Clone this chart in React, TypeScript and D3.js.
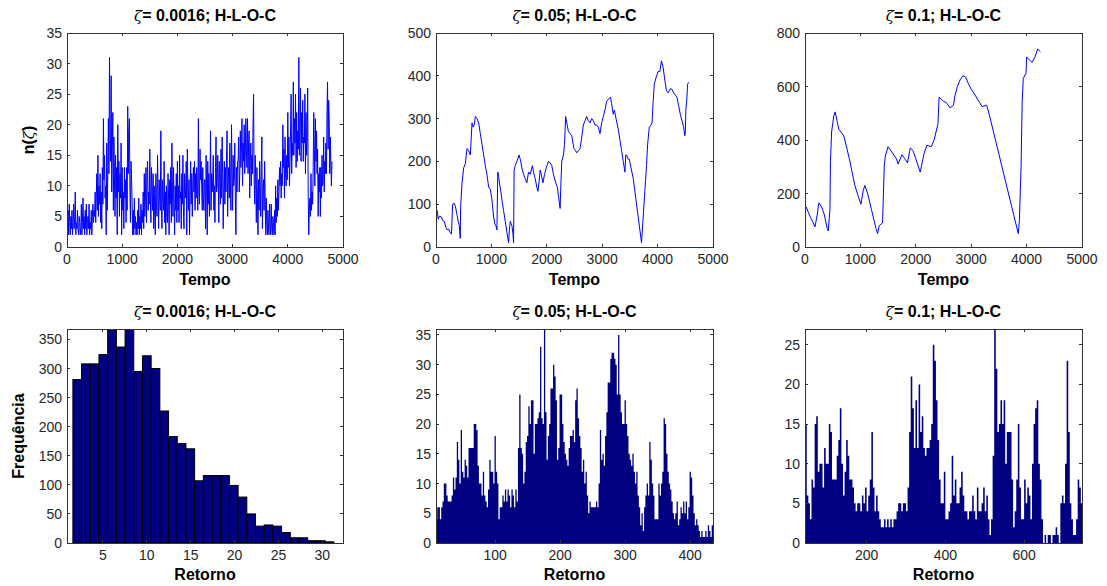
import React from "react";
import * as d3 from "d3";

// ---------- DATA ----------
const tempoTicks = [0, 1000, 2000, 3000, 4000, 5000];

// Panel 1: zeta = 0.0016, n(zeta) vs Tempo, sampled every 10 time units
const p1Step = 10;
const p1Values = [
  8, 3, 6, 2, 7, 4, 2, 5, 3, 6,
  2, 4, 7, 3, 5, 9, 2, 4, 3, 6,
  3, 2, 5, 4, 2, 3, 7, 2, 4, 8,
  3, 5, 2, 6, 3, 7, 2, 4, 5, 3,
  7, 2, 4, 3, 6, 2, 5, 7, 4, 6,
  5, 9, 4, 8, 12, 6, 15, 5, 10, 7,
  12, 4, 9, 3, 13, 7, 21, 11, 15, 8,
  10, 2, 17, 6, 13, 21, 12, 31, 18, 14,
  28, 9, 16, 22, 6, 18, 11, 5, 15, 8,
  13, 2, 20, 9, 14, 5, 12, 8, 17, 2,
  13, 6, 9, 3, 13, 8, 11, 4, 13, 6,
  23, 12, 19, 21, 9, 4, 14, 11, 7, 2,
  6, 2, 8, 3, 5, 2, 4, 2, 6, 3,
  8, 2, 5, 3, 7, 2, 6, 4, 9, 3,
  12, 5, 8, 13, 4, 11, 14, 6, 9, 7,
  16, 8, 4, 13, 10, 6, 12, 3, 10, 5,
  2, 12, 7, 5, 15, 9, 3, 11, 8, 6,
  19, 7, 3, 11, 8, 6, 14, 4, 9, 2,
  10, 5, 4, 12, 8, 2, 11, 7, 13, 4,
  17, 9, 5, 13, 7, 2, 10, 6, 12, 4,
  14, 6, 10, 4, 15, 8, 9, 3, 12, 7,
  15, 5, 3, 12, 9, 8, 14, 2, 16, 10,
  6, 11, 2, 9, 14, 7, 12, 5, 10, 13,
  9, 14, 6, 12, 8, 13, 10, 6, 21, 9,
  7, 16, 11, 14, 10, 6, 13, 8, 6, 11,
  11, 3, 15, 9, 2, 14, 7, 12, 5, 10,
  19, 6, 12, 9, 11, 15, 6, 10, 4, 13,
  18, 9, 10, 15, 12, 4, 14, 11, 7, 16,
  8, 18, 12, 3, 10, 14, 7, 13, 9, 15,
  19, 5, 11, 13, 8, 17, 10, 6, 20, 12,
  6, 15, 10, 11, 17, 8, 2, 13, 9, 14,
  14, 18, 9, 12, 19, 13, 16, 21, 10, 17,
  14, 20, 12, 15, 21, 16, 13, 21, 12, 17,
  19, 8, 14, 17, 10, 15, 12, 20, 25, 11,
  7, 15, 10, 4, 13, 8, 2, 11, 6, 14,
  10, 5, 13, 18, 3, 9, 11, 6, 14, 8,
  2, 8, 4, 2, 6, 3, 2, 7, 4, 2,
  7, 3, 2, 5, 4, 2, 6, 2, 10, 4,
  8, 5, 11, 6, 9, 13, 10, 14, 8, 12,
  10, 20, 13, 16, 8, 18, 12, 10, 15, 11,
  22, 13, 18, 10, 14, 19, 25, 12, 17, 15,
  27, 15, 21, 17, 25, 13, 22, 14, 19, 16,
  31, 15, 20, 26, 14, 22, 17, 24, 14, 18,
  17, 25, 12, 22, 15, 18, 26, 8, 2, 6,
  8, 5, 12, 6, 9, 7, 13, 22, 16, 10,
  21, 14, 19, 12, 16, 5, 12, 9, 13, 5,
  13, 8, 15, 10, 11, 18, 9, 14, 12, 17,
  12, 22, 27, 16, 24, 21, 12, 18, 14, 10,
  14,
];

// Panel 2: zeta = 0.05
const p2Times = [
  0, 20, 40, 60, 100, 120, 150, 180, 200, 230, 250, 280, 300, 330, 350, 380, 400, 420, 438, 445,
  470, 500, 530, 560, 590, 620, 650, 670, 690, 710, 740, 770, 800, 830, 860, 890, 920, 950, 980, 1010,
  1040, 1060, 1080, 1100, 1115, 1130, 1145, 1170, 1190, 1220, 1250, 1280, 1310, 1325, 1340, 1355, 1370, 1390, 1400, 1410,
  1430, 1460, 1500, 1530, 1550, 1580, 1610, 1640, 1670, 1700, 1740, 1760, 1790, 1820, 1840, 1860, 1880, 1900, 1930, 1960,
  1990, 2030, 2060, 2090, 2120, 2150, 2190, 2210, 2240, 2255, 2270, 2300, 2320, 2340, 2360, 2390, 2420, 2450, 2490, 2520,
  2540, 2570, 2600, 2630, 2660, 2690, 2720, 2750, 2780, 2810, 2840, 2870, 2900, 2930, 2960, 2990, 3020, 3050, 3080, 3110,
  3150, 3170, 3200, 3220, 3250, 3290, 3320, 3350, 3380, 3410, 3425, 3440, 3470, 3490, 3520, 3560, 3590, 3620, 3650, 3680,
  3710, 3725, 3740, 3770, 3800, 3820, 3850, 3880, 3900, 3920, 3940, 3970, 4010, 4040, 4070, 4090, 4100, 4130, 4160, 4190,
  4230, 4260, 4290, 4320, 4350, 4380, 4410, 4440, 4470, 4490, 4500, 4510, 4530, 4540, 4560,
];
const p2Values = [
  70, 85, 65, 72, 70, 62, 60, 45, 40, 42, 35, 30, 100, 102, 95, 75, 60, 50, 20, 95,
  150, 185, 195, 230, 225, 215, 290, 280, 285, 305, 300, 290, 265, 240, 215, 190, 170, 140, 135, 110,
  70, 55, 50, 40, 175, 165, 150, 130, 110, 85, 60, 35, 10, 40, 60, 55, 50, 30, 10, 180,
  190, 200, 215, 200, 185, 170, 160, 150, 175, 170, 190, 175, 160, 140, 130, 150, 180, 170, 150, 170,
  185, 200, 197, 190, 170, 155, 140, 120, 90, 150, 200, 215, 240, 305, 290, 270, 265, 260, 230, 225,
  220, 225, 230, 255, 285, 295, 305, 295, 290, 300, 295, 285, 285, 280, 265, 290, 305, 320, 340, 345,
  350, 335, 310, 320, 300, 275, 250, 225, 200, 175, 215, 215, 205, 205, 185, 160, 130, 100, 70, 40,
  10, 40, 70, 130, 190, 240, 280, 285, 290, 340, 380, 395, 410, 410, 435, 425, 420, 390, 365, 360,
  370, 368, 360, 355, 350, 330, 310, 295, 280, 260, 265, 320, 350, 380, 385,
];

// Panel 3: zeta = 0.1
const p3Times = [
  0, 20, 60, 100, 150, 180, 220, 250, 300, 350, 400, 420, 450, 460, 480, 520, 545, 580, 610, 650,
  700, 720, 800, 900, 960, 1010, 1050, 1080, 1130, 1200, 1280, 1310, 1340, 1400, 1430, 1450, 1500, 1550, 1650, 1680,
  1750, 1800, 1850, 1900, 1950, 2000, 2080, 2150, 2200, 2280, 2330, 2400, 2420, 2500, 2550, 2620, 2680, 2700, 2750, 2800,
  2850, 2900, 2950, 3000, 3050, 3150, 3200, 3280, 3320, 3850, 3870, 3900, 3920, 3940, 3990, 4000, 4100, 4150, 4200, 4250,
];
const p3Values = [
  130, 150, 130, 110, 90, 75, 120, 165, 150, 120, 70, 60, 140, 320, 430, 490, 505, 470, 440, 430,
  415, 400, 330, 230, 190, 160, 210, 230, 200, 140, 70, 50, 80, 90, 300, 340, 375, 360, 330, 310,
  345, 330, 315, 370, 360, 330, 280, 350, 380, 375, 400, 460, 560, 545, 540, 520, 530, 560, 600, 625,
  640, 635, 610, 590, 575, 540, 525, 530, 500, 50, 100, 300, 540, 630, 650, 710, 690, 710, 740, 730,
];

// Histogram 1: 30 bins over [1.57, 31.3]
const hist1Range = [1.57, 31.3];
const hist1Counts = [
  281, 308, 308, 324, 368, 337, 368, 295, 322, 300,
  227, 183, 171, 162, 107, 116, 116, 116, 99, 79,
  50, 29, 31, 29, 18, 9, 9, 4, 4, 2,
];

// Histogram 2: bins of width 2 starting at 9
const hist2Start = 9;
const hist2Width = 2;
const hist2Counts = [
  4, 6, 6, 4, 6, 7, 10, 10, 8, 7,
  7, 7, 8, 11, 9, 11, 17, 14, 10, 19,
  12, 11, 14, 13, 11, 16, 16, 16, 16, 20,
  20, 19, 13, 10, 10, 8, 12, 8, 7, 6,
  9, 14, 12, 12, 10, 18, 12, 10, 4, 6,
  6, 8, 7, 9, 7, 9, 8, 6, 9, 8,
  6, 9, 7, 16, 25, 16, 15, 10, 12, 17,
  18, 23, 20, 24, 24, 15, 20, 20, 21, 22,
  33, 21, 20, 36, 22, 14, 18, 20, 26, 26,
  30, 28, 24, 14, 16, 25, 25, 20, 17, 15,
  14, 13, 16, 18, 18, 19, 17, 24, 26, 21,
  18, 16, 12, 14, 10, 12, 8, 5, 7, 6,
  6, 6, 6, 7, 6, 10, 19, 14, 15, 13,
  18, 22, 27, 27, 31, 32, 32, 31, 30, 25,
  35, 25, 22, 20, 20, 24, 20, 18, 15, 14,
  13, 15, 12, 10, 12, 8, 6, 3, 5, 2,
  6, 8, 10, 8, 17, 14, 10, 8, 4, 4,
  4, 10, 8, 10, 12, 21, 20, 15, 12, 10,
  9, 7, 5, 4, 5, 7, 3, 4, 6, 5,
  7, 5, 7, 4, 6, 12, 11, 8, 5, 3,
  4, 3, 2, 1, 2, 1, 1, 2, 1, 3,
  2, 1, 3,
];

// Histogram 3: bins of width 4 starting at 44
const hist3Start = 44;
const hist3Width = 4;
const hist3Counts = [
  15, 6, 5, 3, 8, 7, 15, 16, 9, 10,
  10, 7, 12, 10, 10, 15, 14, 8, 8, 8,
  11, 13, 17, 10, 6, 9, 13, 11, 8, 8,
  7, 5, 4, 5, 5, 4, 6, 5, 7, 4,
  6, 8, 14, 7, 4, 6, 4, 3, 2, 2,
  3, 2, 3, 2, 3, 2, 3, 3, 4, 5,
  5, 4, 5, 5, 4, 7, 14, 21, 17, 12,
  18, 12, 20, 14, 16, 12, 11, 12, 12, 13,
  15, 25, 23, 18, 13, 8, 5, 5, 9, 3,
  3, 4, 5, 11, 6, 8, 5, 5, 7, 9,
  6, 4, 4, 3, 4, 4, 6, 4, 3, 7,
  4, 4, 5, 7, 4, 6, 3, 1, 3, 11,
  27, 22, 14, 15, 18, 15, 18, 10, 14, 14,
  14, 8, 2, 4, 8, 15, 7, 3, 3, 8,
  5, 7, 6, 3, 10, 15, 17, 18, 10, 8,
  3, 0, 1, 0, 1, 1, 0, 1, 1, 2,
  1, 0, 5, 6, 5, 10, 23, 14, 5, 3,
  1, 1, 3, 8, 7, 5,
];

// ---------- LAYOUT ----------
const W = 1107;
const H = 586;
const cols = [
  { x0: 67, x1: 343 },
  { x0: 436, x1: 713 },
  { x0: 805, x1: 1082 },
];
const rows = [
  { y0: 33, y1: 247 },
  { y0: 329, y1: 543 },
];
const FONT = "Arial, 'Liberation Sans', Helvetica, sans-serif";
const TXT = "#262626";
const NAVY = "#000080";
const BLUE = "#0000ff";

type Box = { x0: number; x1: number; y0: number; y1: number };

function Axes({
  box,
  x,
  y,
  xTicks,
  yTicks,
}: {
  box: Box;
  x: d3.ScaleLinear<number, number>;
  y: d3.ScaleLinear<number, number>;
  xTicks: number[];
  yTicks: number[];
}) {
  const tl = 3;
  return (
    <g>
      <rect
        x={box.x0}
        y={box.y0}
        width={box.x1 - box.x0}
        height={box.y1 - box.y0}
        fill="none"
        stroke="#333"
        strokeWidth={1}
        shapeRendering="crispEdges"
      />
      {xTicks.map((t) => (
        <g key={"x" + t}>
          <line x1={x(t)} x2={x(t)} y1={box.y1} y2={box.y1 - tl} stroke="#333" shapeRendering="crispEdges" />
          <line x1={x(t)} x2={x(t)} y1={box.y0} y2={box.y0 + tl} stroke="#333" shapeRendering="crispEdges" />
          <text
            x={x(t)}
            y={box.y1 + 17}
            textAnchor="middle"
            fontFamily={FONT}
            fontSize={14}
            fill={TXT}
          >
            {t}
          </text>
        </g>
      ))}
      {yTicks.map((t) => (
        <g key={"y" + t}>
          <line x1={box.x0} x2={box.x0 + tl} y1={y(t)} y2={y(t)} stroke="#333" shapeRendering="crispEdges" />
          <line x1={box.x1} x2={box.x1 - tl} y1={y(t)} y2={y(t)} stroke="#333" shapeRendering="crispEdges" />
          <text
            x={box.x0 - 5}
            y={y(t)}
            textAnchor="end"
            dominantBaseline="central"
            fontFamily={FONT}
            fontSize={14}
            fill={TXT}
          >
            {t}
          </text>
        </g>
      ))}
    </g>
  );
}

function Title({ box, label }: { box: Box; label: string }) {
  return (
    <text
      x={(box.x0 + box.x1) / 2}
      y={box.y0 - 12}
      textAnchor="middle"
      fontFamily={FONT}
      fontSize={16}
      fontWeight="bold"
      fill="#000"
    >
      <tspan fontWeight="normal" fontFamily="'DejaVu Serif', serif" fontStyle="italic" fontSize={15}>
        ζ
      </tspan>
      {"= " + label + "; H-L-O-C"}
    </text>
  );
}

function LinePanel({
  box,
  times,
  values,
  yMax,
  yTicks,
  label,
  id,
}: {
  box: Box;
  times: number[];
  values: number[];
  yMax: number;
  yTicks: number[];
  label: string;
  id: string;
}) {
  const x = d3.scaleLinear().domain([0, 5000]).range([box.x0, box.x1]);
  const y = d3.scaleLinear().domain([0, yMax]).range([box.y1, box.y0]);
  const pts = times.map((t, i) => [t, values[i]] as [number, number]);
  const line = d3
    .line<[number, number]>()
    .x((d) => x(d[0]))
    .y((d) => y(d[1]));
  return (
    <g>
      <defs>
        <clipPath id={id}>
          <rect x={box.x0} y={box.y0} width={box.x1 - box.x0} height={box.y1 - box.y0} />
        </clipPath>
      </defs>
      <path d={line(pts) || ""} fill="none" stroke={BLUE} strokeWidth={1} clipPath={`url(#${id})`} />
      <Axes box={box} x={x} y={y} xTicks={tempoTicks} yTicks={yTicks} />
      <Title box={box} label={label} />
      <text
        x={(box.x0 + box.x1) / 2}
        y={box.y1 + 38}
        textAnchor="middle"
        fontFamily={FONT}
        fontSize={16}
        fontWeight="bold"
        fill="#000"
      >
        Tempo
      </text>
    </g>
  );
}

function HistPanel({
  box,
  edges,
  counts,
  xDomain,
  yMax,
  xTicks,
  yTicks,
  label,
  stroke,
  id,
}: {
  box: Box;
  edges: number[];
  counts: number[];
  xDomain: [number, number];
  yMax: number;
  xTicks: number[];
  yTicks: number[];
  label: string;
  stroke: boolean;
  id: string;
}) {
  const x = d3.scaleLinear().domain(xDomain).range([box.x0, box.x1]);
  const y = d3.scaleLinear().domain([0, yMax]).range([box.y1, box.y0]);
  const stepPts = counts.map((c, i) => [edges[i], c] as [number, number]);
  stepPts.push([edges[counts.length], counts[counts.length - 1]]);
  const area = d3
    .area<[number, number]>()
    .x((d) => x(d[0]))
    .y0(y(0))
    .y1((d) => y(d[1]))
    .curve(d3.curveStepAfter);
  return (
    <g>
      <defs>
        <clipPath id={id}>
          <rect x={box.x0} y={box.y0} width={box.x1 - box.x0} height={box.y1 - box.y0} />
        </clipPath>
      </defs>
      <g clipPath={`url(#${id})`}>
        {stroke ? (
          counts.map((c, i) => (
            <rect
              key={i}
              x={x(edges[i])}
              y={y(c)}
              width={Math.max(0, x(edges[i + 1]) - x(edges[i]))}
              height={Math.max(0, y(0) - y(c))}
              fill={NAVY}
              stroke="#000"
              strokeWidth={1}
            />
          ))
        ) : (
          <path d={area(stepPts) || ""} fill={NAVY} stroke="none" />
        )}
      </g>
      <Axes box={box} x={x} y={y} xTicks={xTicks} yTicks={yTicks} />
      <Title box={box} label={label} />
      <text
        x={(box.x0 + box.x1) / 2}
        y={box.y1 + 37}
        textAnchor="middle"
        fontFamily={FONT}
        fontSize={16}
        fontWeight="bold"
        fill="#000"
      >
        Retorno
      </text>
    </g>
  );
}

export default function App() {
  const p1Times = p1Values.map((_, i) => i * p1Step);
  const top = cols.map((c) => ({ ...c, ...rows[0] }));
  const bot = cols.map((c) => ({ ...c, ...rows[1] }));

  const e1 = d3.range(hist1Counts.length + 1).map(
    (i) => hist1Range[0] + (i * (hist1Range[1] - hist1Range[0])) / hist1Counts.length
  );
  const e2 = d3.range(hist2Counts.length + 1).map((i) => hist2Start + i * hist2Width);
  const e3 = d3.range(hist3Counts.length + 1).map((i) => hist3Start + i * hist3Width);

  return (
    <svg
      width={W}
      height={H}
      viewBox={`0 0 ${W} ${H}`}
      style={{ position: "absolute", left: 0, top: 0, background: "#fff" }}
    >
      <rect x={0} y={0} width={W} height={H} fill="#fff" />
      <LinePanel
        box={top[0]}
        times={p1Times}
        values={p1Values}
        yMax={35}
        yTicks={d3.range(0, 36, 5)}
        label="0.0016"
        id="c1"
      />
      <LinePanel
        box={top[1]}
        times={p2Times}
        values={p2Values}
        yMax={500}
        yTicks={d3.range(0, 501, 100)}
        label="0.05"
        id="c2"
      />
      <LinePanel
        box={top[2]}
        times={p3Times}
        values={p3Values}
        yMax={800}
        yTicks={d3.range(0, 801, 200)}
        label="0.1"
        id="c3"
      />
      <HistPanel
        box={bot[0]}
        edges={e1}
        counts={hist1Counts}
        xDomain={[0.9, 32.35]}
        yMax={368}
        xTicks={[5, 10, 15, 20, 25, 30]}
        yTicks={d3.range(0, 351, 50)}
        label="0.0016"
        stroke={true}
        id="h1"
      />
      <HistPanel
        box={bot[1]}
        edges={e2}
        counts={hist2Counts}
        xDomain={[9, 435]}
        yMax={36}
        xTicks={[100, 200, 300, 400]}
        yTicks={d3.range(0, 36, 5)}
        label="0.05"
        stroke={false}
        id="h2"
      />
      <HistPanel
        box={bot[2]}
        edges={e3}
        counts={hist3Counts}
        xDomain={[43.5, 747]}
        yMax={27}
        xTicks={[200, 400, 600]}
        yTicks={d3.range(0, 26, 5)}
        label="0.1"
        stroke={false}
        id="h3"
      />
      {/* y-axis labels */}
      <text
        transform={`translate(34, ${(rows[0].y0 + rows[0].y1) / 2}) rotate(-90)`}
        textAnchor="middle"
        fontFamily={FONT}
        fontSize={16}
        fontWeight="bold"
        fill="#000"
      >
        n(
        <tspan fontWeight="normal" fontFamily="'DejaVu Serif', serif" fontStyle="italic" fontSize={15}>
          ζ
        </tspan>
        )
      </text>
      <text
        transform={`translate(24, ${(rows[1].y0 + rows[1].y1) / 2}) rotate(-90)`}
        textAnchor="middle"
        fontFamily={FONT}
        fontSize={16}
        fontWeight="bold"
        fill="#000"
      >
        Frequência
      </text>
    </svg>
  );
}
